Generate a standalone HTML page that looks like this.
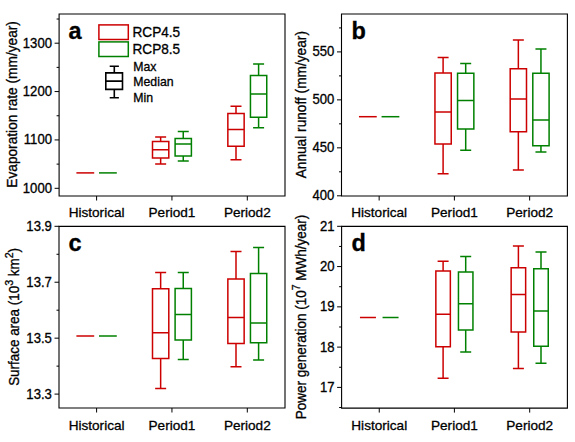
<!DOCTYPE html><html><head><meta charset="utf-8"><style>html,body{margin:0;padding:0;background:#fff;}svg{display:block;}text{font-family:"Liberation Sans",sans-serif;font-size:13.6px;fill:#000;stroke:#000;stroke-width:0.3px;}</style></head><body>
<svg width="575" height="442" viewBox="0 0 575 442">
<rect width="575" height="442" fill="#fff"/>
<path d="M59.1 14.0H285.0V196.0H59.1Z" fill="none" stroke="#000" stroke-width="1.1"/>
<path d="M54.6 188.3H59.1" stroke="#000" stroke-width="1"/>
<text transform="translate(52.0 192.70000000000002) scale(0.965 1.03)" text-anchor="end">1000</text>
<path d="M54.6 139.93H59.1" stroke="#000" stroke-width="1"/>
<text transform="translate(52.0 144.33) scale(0.965 1.03)" text-anchor="end">1100</text>
<path d="M54.6 91.57H59.1" stroke="#000" stroke-width="1"/>
<text transform="translate(52.0 95.97) scale(0.965 1.03)" text-anchor="end">1200</text>
<path d="M54.6 43.2H59.1" stroke="#000" stroke-width="1"/>
<text transform="translate(52.0 47.6) scale(0.965 1.03)" text-anchor="end">1300</text>
<path d="M56.6 164.12H59.1" stroke="#000" stroke-width="1"/>
<path d="M56.6 115.75H59.1" stroke="#000" stroke-width="1"/>
<path d="M56.6 67.38H59.1" stroke="#000" stroke-width="1"/>
<path d="M56.6 19.02H59.1" stroke="#000" stroke-width="1"/>
<path d="M96.6 196.0V200.5" stroke="#000" stroke-width="1"/>
<text transform="translate(96.6 217.1) scale(1.0 1.0)" text-anchor="middle">Historical</text>
<path d="M171.95 196.0V200.5" stroke="#000" stroke-width="1"/>
<text transform="translate(171.95 217.1) scale(1.0 1.0)" text-anchor="middle">Period1</text>
<path d="M247.3 196.0V200.5" stroke="#000" stroke-width="1"/>
<text transform="translate(247.3 217.1) scale(1.0 1.0)" text-anchor="middle">Period2</text>
<path d="M77.14999999999999 172.9H93.45" stroke="#cc0000" stroke-width="1.5" stroke-linecap="square"/>
<path d="M99.74999999999999 172.9H116.05" stroke="#008000" stroke-width="1.5" stroke-linecap="square"/>
<path d="M155.14999999999998 136.9H166.14999999999998M160.64999999999998 136.9V141.6M152.49999999999997 141.6H168.79999999999998V158.1H152.49999999999997ZM152.49999999999997 149.7H168.79999999999998M160.64999999999998 158.1V163.9M155.14999999999998 163.9H166.14999999999998" fill="none" stroke="#cc0000" stroke-width="1.5"/>
<path d="M177.75 131.6H188.75M183.25 131.6V138.5M175.1 138.5H191.4V155.9H175.1ZM175.1 144.1H191.4M183.25 155.9V160.9M177.75 160.9H188.75" fill="none" stroke="#008000" stroke-width="1.5"/>
<path d="M230.5 106.2H241.5M236.0 106.2V113.5M227.85 113.5H244.15V146.2H227.85ZM227.85 129.4H244.15M236.0 146.2V159.8M230.5 159.8H241.5" fill="none" stroke="#cc0000" stroke-width="1.5"/>
<path d="M253.10000000000002 64.0H264.1M258.6 64.0V75.4M250.45000000000002 75.4H266.75V117.2H250.45000000000002ZM250.45000000000002 93.9H266.75M258.6 117.2V127.7M253.10000000000002 127.7H264.1" fill="none" stroke="#008000" stroke-width="1.5"/>
<text transform="translate(68.5 38.5) scale(1 1)" text-anchor="start" style="font-size:23.5px;font-weight:bold">a</text>
<text transform="translate(16.8 104.4) rotate(-90) scale(1.0 1.07)" text-anchor="middle" style="font-size:13.7px">Evaporation rate (mm/year)</text>
<path d="M341.5 14.0H567.4V196.0H341.5Z" fill="none" stroke="#000" stroke-width="1.1"/>
<path d="M337.0 195.8H341.5" stroke="#000" stroke-width="1"/>
<text transform="translate(334.4 200.20000000000002) scale(0.965 1.03)" text-anchor="end">400</text>
<path d="M337.0 147.83H341.5" stroke="#000" stroke-width="1"/>
<text transform="translate(334.4 152.23000000000002) scale(0.965 1.03)" text-anchor="end">450</text>
<path d="M337.0 99.87H341.5" stroke="#000" stroke-width="1"/>
<text transform="translate(334.4 104.27000000000001) scale(0.965 1.03)" text-anchor="end">500</text>
<path d="M337.0 51.9H341.5" stroke="#000" stroke-width="1"/>
<text transform="translate(334.4 56.3) scale(0.965 1.03)" text-anchor="end">550</text>
<path d="M339.0 171.82H341.5" stroke="#000" stroke-width="1"/>
<path d="M339.0 123.85H341.5" stroke="#000" stroke-width="1"/>
<path d="M339.0 75.88H341.5" stroke="#000" stroke-width="1"/>
<path d="M339.0 27.92H341.5" stroke="#000" stroke-width="1"/>
<path d="M379.15 196.0V200.5" stroke="#000" stroke-width="1"/>
<text transform="translate(379.15 217.1) scale(1.0 1.0)" text-anchor="middle">Historical</text>
<path d="M454.4 196.0V200.5" stroke="#000" stroke-width="1"/>
<text transform="translate(454.4 217.1) scale(1.0 1.0)" text-anchor="middle">Period1</text>
<path d="M529.65 196.0V200.5" stroke="#000" stroke-width="1"/>
<text transform="translate(529.65 217.1) scale(1.0 1.0)" text-anchor="middle">Period2</text>
<path d="M359.7 116.7H375.99999999999994" stroke="#cc0000" stroke-width="1.5" stroke-linecap="square"/>
<path d="M382.3 116.7H398.59999999999997" stroke="#008000" stroke-width="1.5" stroke-linecap="square"/>
<path d="M437.59999999999997 57.4H448.59999999999997M443.09999999999997 57.4V73.1M434.95 73.1H451.24999999999994V144.0H434.95ZM434.95 112.1H451.24999999999994M443.09999999999997 144.0V173.8M437.59999999999997 173.8H448.59999999999997" fill="none" stroke="#cc0000" stroke-width="1.5"/>
<path d="M460.2 63.5H471.2M465.7 63.5V73.2M457.55 73.2H473.84999999999997V129.1H457.55ZM457.55 100.5H473.84999999999997M465.7 129.1V150.3M460.2 150.3H471.2" fill="none" stroke="#008000" stroke-width="1.5"/>
<path d="M512.85 40.1H523.85M518.35 40.1V68.8M510.20000000000005 68.8H526.5V131.7H510.20000000000005ZM510.20000000000005 98.9H526.5M518.35 131.7V170.0M512.85 170.0H523.85" fill="none" stroke="#cc0000" stroke-width="1.5"/>
<path d="M535.4499999999999 49.0H546.4499999999999M540.9499999999999 49.0V73.2M532.8 73.2H549.0999999999999V145.7H532.8ZM532.8 119.9H549.0999999999999M540.9499999999999 145.7V152.0M535.4499999999999 152.0H546.4499999999999" fill="none" stroke="#008000" stroke-width="1.5"/>
<text transform="translate(351.5 38.5) scale(1 1)" text-anchor="start" style="font-size:23.5px;font-weight:bold">b</text>
<text transform="translate(306.0 104.7) rotate(-90) scale(1.0 1.07)" text-anchor="middle" style="font-size:13.7px">Annual runoff (mm/year)</text>
<path d="M59.0 226.4H285.0V408.0H59.0Z" fill="none" stroke="#000" stroke-width="1.1"/>
<path d="M54.5 394.1H59.0" stroke="#000" stroke-width="1"/>
<text transform="translate(51.9 398.5) scale(0.965 1.03)" text-anchor="end">13.3</text>
<path d="M54.5 338.17H59.0" stroke="#000" stroke-width="1"/>
<text transform="translate(51.9 342.57) scale(0.965 1.03)" text-anchor="end">13.5</text>
<path d="M54.5 282.23H59.0" stroke="#000" stroke-width="1"/>
<text transform="translate(51.9 286.63) scale(0.965 1.03)" text-anchor="end">13.7</text>
<path d="M54.5 226.3H59.0" stroke="#000" stroke-width="1"/>
<text transform="translate(51.9 230.70000000000002) scale(0.965 1.03)" text-anchor="end">13.9</text>
<path d="M56.5 366.13H59.0" stroke="#000" stroke-width="1"/>
<path d="M56.5 310.2H59.0" stroke="#000" stroke-width="1"/>
<path d="M56.5 254.27H59.0" stroke="#000" stroke-width="1"/>
<path d="M96.6 408.0V412.5" stroke="#000" stroke-width="1"/>
<text transform="translate(96.6 429.5) scale(1.0 1.0)" text-anchor="middle">Historical</text>
<path d="M171.95 408.0V412.5" stroke="#000" stroke-width="1"/>
<text transform="translate(171.95 429.5) scale(1.0 1.0)" text-anchor="middle">Period1</text>
<path d="M247.3 408.0V412.5" stroke="#000" stroke-width="1"/>
<text transform="translate(247.3 429.5) scale(1.0 1.0)" text-anchor="middle">Period2</text>
<path d="M77.14999999999999 336.0H93.45" stroke="#cc0000" stroke-width="1.5" stroke-linecap="square"/>
<path d="M99.74999999999999 336.0H116.05" stroke="#008000" stroke-width="1.5" stroke-linecap="square"/>
<path d="M155.14999999999998 272.6H166.14999999999998M160.64999999999998 272.6V288.8M152.49999999999997 288.8H168.79999999999998V358.6H152.49999999999997ZM152.49999999999997 332.8H168.79999999999998M160.64999999999998 358.6V388.5M155.14999999999998 388.5H166.14999999999998" fill="none" stroke="#cc0000" stroke-width="1.5"/>
<path d="M177.75 272.6H188.75M183.25 272.6V288.5M175.1 288.5H191.4V339.9H175.1ZM175.1 314.4H191.4M183.25 339.9V359.6M177.75 359.6H188.75" fill="none" stroke="#008000" stroke-width="1.5"/>
<path d="M230.5 251.5H241.5M236.0 251.5V279.0M227.85 279.0H244.15V343.5H227.85ZM227.85 317.5H244.15M236.0 343.5V366.8M230.5 366.8H241.5" fill="none" stroke="#cc0000" stroke-width="1.5"/>
<path d="M253.10000000000002 247.6H264.1M258.6 247.6V273.4M250.45000000000002 273.4H266.75V342.8H250.45000000000002ZM250.45000000000002 323.1H266.75M258.6 342.8V359.9M253.10000000000002 359.9H264.1" fill="none" stroke="#008000" stroke-width="1.5"/>
<text transform="translate(68.5 251.0) scale(1 1)" text-anchor="start" style="font-size:23.5px;font-weight:bold">c</text>
<text transform="translate(19.0 316.9) rotate(-90) scale(1.0 1.07)" text-anchor="middle" style="font-size:13.45px">Surface area (10<tspan dy="-5.5" style="font-size:10.6px">3</tspan><tspan dy="5.5"> km</tspan><tspan dy="-5.5" style="font-size:10.6px">2</tspan><tspan dy="5.5">)</tspan></text>
<path d="M341.6 226.4H567.4V408.1H341.6Z" fill="none" stroke="#000" stroke-width="1.1"/>
<path d="M337.1 387.4H341.6" stroke="#000" stroke-width="1"/>
<text transform="translate(334.5 391.79999999999995) scale(0.965 1.03)" text-anchor="end">17</text>
<path d="M337.1 347.12H341.6" stroke="#000" stroke-width="1"/>
<text transform="translate(334.5 351.52) scale(0.965 1.03)" text-anchor="end">18</text>
<path d="M337.1 306.85H341.6" stroke="#000" stroke-width="1"/>
<text transform="translate(334.5 311.25) scale(0.965 1.03)" text-anchor="end">19</text>
<path d="M337.1 266.57H341.6" stroke="#000" stroke-width="1"/>
<text transform="translate(334.5 270.96999999999997) scale(0.965 1.03)" text-anchor="end">20</text>
<path d="M337.1 226.3H341.6" stroke="#000" stroke-width="1"/>
<text transform="translate(334.5 230.70000000000002) scale(0.965 1.03)" text-anchor="end">21</text>
<path d="M339.1 407.54H341.6" stroke="#000" stroke-width="1"/>
<path d="M339.1 367.26H341.6" stroke="#000" stroke-width="1"/>
<path d="M339.1 326.99H341.6" stroke="#000" stroke-width="1"/>
<path d="M339.1 286.71H341.6" stroke="#000" stroke-width="1"/>
<path d="M339.1 246.44H341.6" stroke="#000" stroke-width="1"/>
<path d="M379.25 408.1V412.6" stroke="#000" stroke-width="1"/>
<text transform="translate(379.25 429.5) scale(1.0 1.0)" text-anchor="middle">Historical</text>
<path d="M454.4 408.1V412.6" stroke="#000" stroke-width="1"/>
<text transform="translate(454.4 429.5) scale(1.0 1.0)" text-anchor="middle">Period1</text>
<path d="M529.7 408.1V412.6" stroke="#000" stroke-width="1"/>
<text transform="translate(529.7 429.5) scale(1.0 1.0)" text-anchor="middle">Period2</text>
<path d="M360.7 317.5H375.2" stroke="#cc0000" stroke-width="1.5" stroke-linecap="square"/>
<path d="M383.3 317.5H397.8" stroke="#008000" stroke-width="1.5" stroke-linecap="square"/>
<path d="M437.59999999999997 261.3H448.59999999999997M443.09999999999997 261.3V271.0M435.84999999999997 271.0H450.34999999999997V346.8H435.84999999999997ZM435.84999999999997 314.3H450.34999999999997M443.09999999999997 346.8V378.2M437.59999999999997 378.2H448.59999999999997" fill="none" stroke="#cc0000" stroke-width="1.5"/>
<path d="M460.2 256.6H471.2M465.7 256.6V272.0M458.45 272.0H472.95V330.1H458.45ZM458.45 303.7H472.95M465.7 330.1V352.0M460.2 352.0H471.2" fill="none" stroke="#008000" stroke-width="1.5"/>
<path d="M512.9000000000001 246.0H523.9000000000001M518.4000000000001 246.0V267.8M511.1500000000001 267.8H525.6500000000001V331.9H511.1500000000001ZM511.1500000000001 294.5H525.6500000000001M518.4000000000001 331.9V368.4M512.9000000000001 368.4H523.9000000000001" fill="none" stroke="#cc0000" stroke-width="1.5"/>
<path d="M535.5 251.9H546.5M541.0 251.9V268.8M533.75 268.8H548.25V346.2H533.75ZM533.75 311.0H548.25M541.0 346.2V363.2M535.5 363.2H546.5" fill="none" stroke="#008000" stroke-width="1.5"/>
<text transform="translate(351.5 250.7) scale(1 1)" text-anchor="start" style="font-size:23.5px;font-weight:bold">d</text>
<text transform="translate(306.0 317.0) rotate(-90) scale(1.0 1.07)" text-anchor="middle" style="font-size:13.5px">Power generation (10<tspan dy="-5.5" style="font-size:10.6px">7</tspan><tspan dy="5.5"> MWh/year)</tspan></text>
<rect x="98.9" y="24.9" width="29.4" height="14.6" fill="none" stroke="#cc0000" stroke-width="1.5"/>
<rect x="98.9" y="41.9" width="29.4" height="14.6" fill="none" stroke="#008000" stroke-width="1.5"/>
<text transform="translate(132.5 36.9) scale(1.0 1.07)" text-anchor="start">RCP4.5</text>
<text transform="translate(132.5 53.6) scale(1.0 1.07)" text-anchor="start">RCP8.5</text>
<path d="M109.7 66.2H118.9M114.3 66.2V72.9M105.8 72.9H122.5V89.4H105.8ZM105.8 81.1H122.5M114.3 89.4V97.8M109.7 97.8H118.9" fill="none" stroke="#000" stroke-width="1.6"/>
<text transform="translate(133.3 70.5) scale(1.0 1.07)" text-anchor="start" style="font-size:12.3px">Max</text>
<text transform="translate(133.3 85.8) scale(1.0 1.07)" text-anchor="start" style="font-size:12.3px">Median</text>
<text transform="translate(133.3 101.6) scale(1.0 1.07)" text-anchor="start" style="font-size:12.3px">Min</text>
</svg></body></html>
